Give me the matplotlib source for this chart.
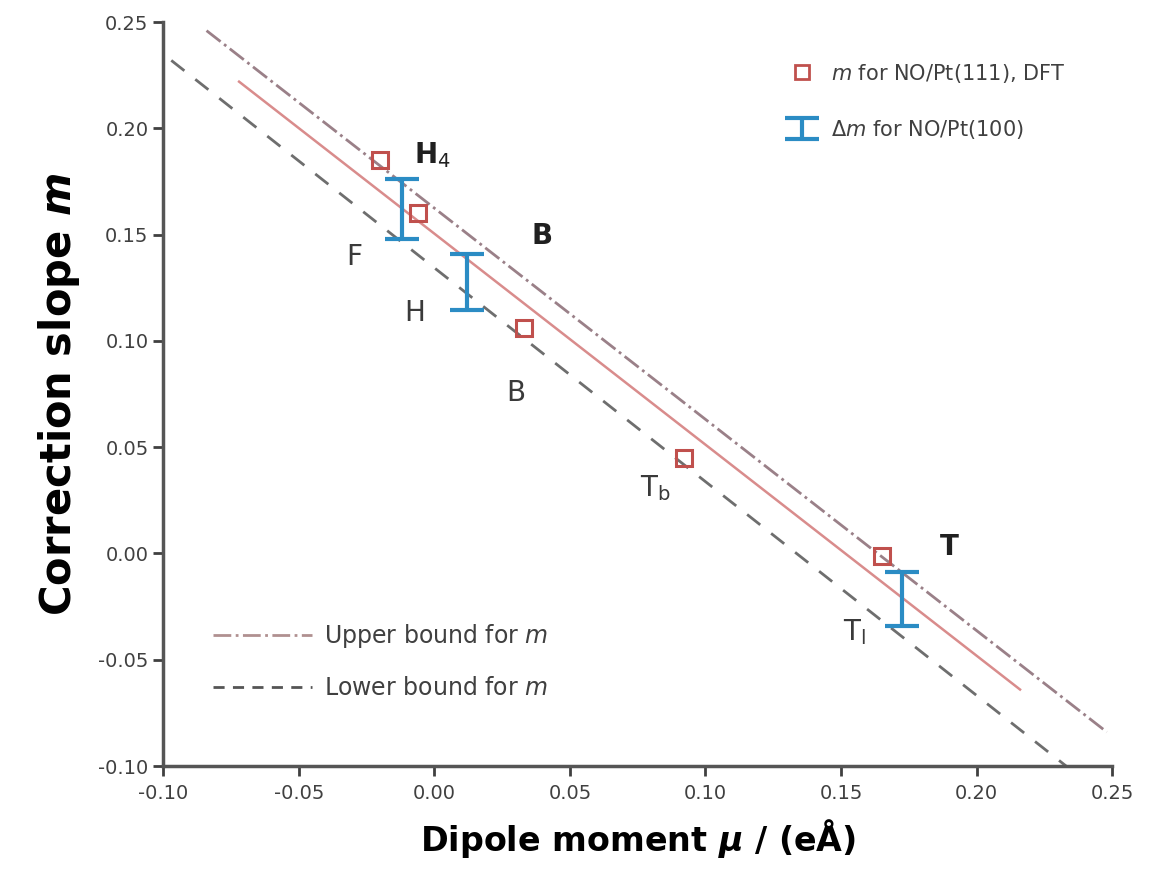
import numpy as np
import matplotlib.pyplot as plt
from matplotlib.lines import Line2D

# m for NO/Pt(111), DFT
mu_111 = [-0.020, -0.006, 0.033, 0.092, 0.165]
m_111 = [0.185, 0.160, 0.106, 0.045, -0.001]

# delta m for NO/Pt(100)
mu_100 = [-0.012, 0.012, 0.1725]
m_100_lo = [0.148, 0.1145, -0.034]
m_100_hi = [0.176, 0.141, -0.0087]

# fitted line and bounds (end points)
fit_mu = [-0.072, 0.216]
fit_m = [0.222, -0.064]
upper_mu = [-0.084, 0.248]
upper_m = [0.246, -0.084]
lower_mu = [-0.097, 0.233]
lower_m = [0.232, -0.100]

# site labels
site_text = [r'H$_4$', 'F', 'B', 'H', 'B', r'T$_\mathrm{b}$', 'T', r'T$_\mathrm{l}$']
site_mu = [-0.0008, -0.0296, 0.0397, -0.0074, 0.0302, 0.0814, 0.190, 0.155]
site_m = [0.1874, 0.1395, 0.1493, 0.1131, 0.0755, 0.0308, 0.003, -0.037]
site_bold = [True, False, True, False, False, False, True, False]

fig = plt.figure(figsize=(11.49, 8.86), dpi=100)
ax = fig.add_axes([0.142, 0.1354, 0.826, 0.8396])

ax.plot(fit_mu, fit_m, color='#d98c8c', lw=1.8)
ax.plot(upper_mu, upper_m, color='#9a8088', lw=2.0, ls='-.')
ax.plot(lower_mu, lower_m, color='#6e6e6e', lw=2.0, ls=(0, (6, 5)))

ax.plot(mu_111, m_111, 's', ms=11, mfc='none', mec='#c0504d', mew=2.2, zorder=4)

lo = np.array(m_100_lo)
hi = np.array(m_100_hi)
mid = (lo + hi) / 2
eb = ax.errorbar(mu_100, mid, yerr=(hi - lo) / 2, fmt='none', ecolor='#2b8cc4',
                 elinewidth=3, capsize=12, capthick=3, zorder=5)

for t, x, y, b in zip(site_text, site_mu, site_m, site_bold):
    ax.text(x, y, t, fontsize=20, ha='center', va='center',
            fontweight='bold' if b else 'normal',
            color='#202020' if b else '#3a3a3a')

ax.set_xlim(-0.10, 0.25)
ax.set_ylim(-0.10, 0.25)
ax.set_xticks(np.arange(-0.10, 0.251, 0.05))
ax.set_yticks(np.arange(-0.10, 0.251, 0.05))
ax.xaxis.set_major_formatter(plt.FormatStrFormatter('%.2f'))
ax.yaxis.set_major_formatter(plt.FormatStrFormatter('%.2f'))
ax.tick_params(labelsize=14, labelcolor='#404040', length=7, width=2,
               color='#404040', direction='out')
ax.tick_params(axis='x', pad=6)
for s in ['top', 'right']:
    ax.spines[s].set_visible(False)
for s in ['left', 'bottom']:
    ax.spines[s].set_linewidth(2.5)
    ax.spines[s].set_color('#555555')

ax.set_xlabel(r'Dipole moment $\boldsymbol{\mu}$ / (eÅ)', fontsize=24,
              fontweight='bold', labelpad=10)
ax.set_ylabel(r'Correction slope $\boldsymbol{m}$', fontsize=30,
              fontweight='bold', labelpad=12)

h1 = Line2D([], [], ls='none', marker='s', ms=10, mfc='none', mec='#c0504d', mew=2)
leg1 = ax.legend([h1, eb], [r'$m$ for NO/Pt(111), DFT', r'$\Delta m$ for NO/Pt(100)'],
                 loc='upper left', bbox_to_anchor=(0.64, 0.972), frameon=False,
                 fontsize=15, labelcolor='#404040', handlelength=1.2,
                 labelspacing=1.6)
ax.add_artist(leg1)

h3 = Line2D([], [], color='#b09090', lw=2, ls='-.')
h4 = Line2D([], [], color='#555555', lw=2, ls=(0, (4, 3)))
ax.legend([h3, h4], [r'Upper bound for $m$', r'Lower bound for $m$'],
          loc='lower left', bbox_to_anchor=(0.03, 0.06), frameon=False,
          fontsize=17, labelcolor='#404040', handlelength=4.2,
          handletextpad=0.5, labelspacing=1.1)

fig.savefig('out.png', dpi=100)
